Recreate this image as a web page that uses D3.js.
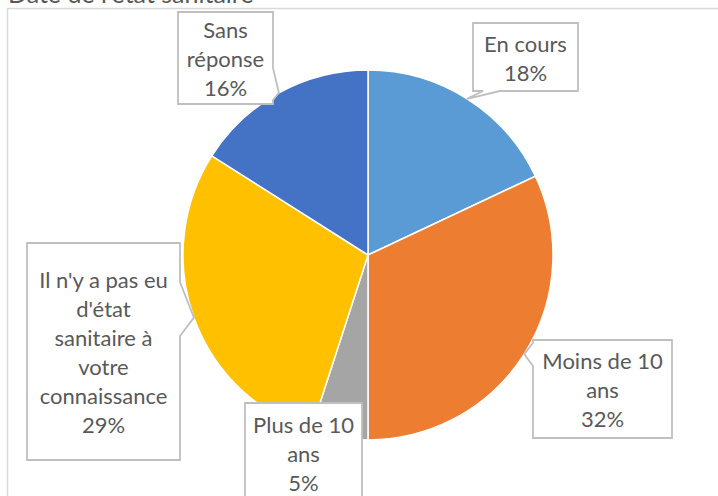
<!DOCTYPE html>
<html>
<head>
<meta charset="utf-8">
<script src="https://cdn.jsdelivr.net/npm/d3@7"></script>
<style>
  body { margin: 0; background: #fff; }
  svg { display: block; font-family: Lato, "Open Sans", sans-serif; }
</style>
</head>
<body>
<svg id="chart"></svg>
<script>
// categories and values (clockwise from 12 o'clock)
const categories = ["En cours", "Moins de 10 ans", "Plus de 10 ans",
  "Il n'y a pas eu d'état sanitaire à votre connaissance", "Sans réponse"];
const values = [18, 32, 5, 29, 16];
// label lines as they wrap in the callouts
const labelLines = [
  ["En cours", "18%"],
  ["Moins de 10", "ans", "32%"],
  ["Plus de 10", "ans", "5%"],
  ["Il n'y a pas eu", "d'état", "sanitaire à", "votre", "connaissance", "29%"],
  ["Sans", "réponse", "16%"]
];
const colors = ["#5B9BD5", "#ED7D31", "#A5A5A5", "#FFC000", "#4472C4"];
const title = "Date de l'état sanitaire";

const width = 718, height = 496;
const cx = 368, cy = 255, radius = 185;

// callout box layout (box, side with the pointer, span of the pointer base)
const callouts = [
  { x: 473, y: 23, w: 105, h: 68, side: "bottom", base: [483, 500] },
  { x: 533, y: 340, w: 139, h: 98, side: "left", base: [343, 366] },
  { x: 245, y: 403, w: 117, h: 100, side: null },
  { x: 27, y: 243, w: 153, h: 217, side: "right", base: [282, 336] },
  { x: 178, y: 12, w: 95, h: 92, side: "right", base: [68, 100] }
];

const svg = d3.select("#chart")
  .attr("width", width)
  .attr("height", height);

// chart area border (runs off the right and bottom)
svg.append("rect")
  .attr("x", 7.5).attr("y", 8.5)
  .attr("width", width + 20).attr("height", height + 20)
  .attr("fill", "none")
  .attr("stroke", "#D9D9D9")
  .attr("stroke-width", 1.5);

// title, mostly cut off by the top of the picture
svg.append("text")
  .attr("x", 8).attr("y", 3)
  .attr("font-size", 25)
  .attr("fill", "#595959")
  .text(title);

const pie = d3.pie().sort(null).value(d => d);
const arcs = pie(values);
const arc = d3.arc().innerRadius(0).outerRadius(radius);

const g = svg.append("g").attr("transform", `translate(${cx},${cy})`);

g.selectAll("path")
  .data(arcs)
  .enter()
  .append("path")
  .attr("d", arc)
  .attr("fill", (d, i) => colors[i])
  .attr("stroke", "#fff")
  .attr("stroke-width", 1.5);

// pointer tip = point on the outer arc at the middle of each slice
function tipOf(d) {
  const a = (d.startAngle + d.endAngle) / 2;
  return [cx + radius * Math.sin(a), cy - radius * Math.cos(a)];
}

function calloutPath(c, tip) {
  const x0 = c.x, y0 = c.y, x1 = c.x + c.w, y1 = c.y + c.h;
  const p = d3.path();
  p.moveTo(x0, y0);
  p.lineTo(x1, y0);
  if (c.side === "right") {
    p.lineTo(x1, c.base[0]); p.lineTo(tip[0], tip[1]); p.lineTo(x1, c.base[1]);
  }
  p.lineTo(x1, y1);
  if (c.side === "bottom") {
    p.lineTo(c.base[1], y1); p.lineTo(tip[0], tip[1]); p.lineTo(c.base[0], y1);
  }
  p.lineTo(x0, y1);
  if (c.side === "left") {
    p.lineTo(x0, c.base[1]); p.lineTo(tip[0], tip[1]); p.lineTo(x0, c.base[0]);
  }
  p.closePath();
  return p.toString();
}

const labels = svg.append("g");
const lineH = 29, fontSize = 22;

arcs.forEach(function(d, i) {
  const c = callouts[i];
  const tip = tipOf(d);
  labels.append("path")
    .attr("d", calloutPath(c, tip))
    .attr("fill", "#fff")
    .attr("stroke", "#BFBFBF")
    .attr("stroke-width", 1.8)
    .attr("stroke-linejoin", "miter");

  const lines = labelLines[i];
  const mx = c.x + c.w / 2, my = c.y + c.h / 2;
  labels.append("text")
    .attr("text-anchor", "middle")
    .attr("font-size", fontSize)
    .attr("fill", "#595959")
    .selectAll("tspan")
    .data(lines)
    .enter()
    .append("tspan")
    .attr("x", mx)
    .attr("y", (l, j) => my + (j - (lines.length - 1) / 2) * lineH + 9)
    .text(l => l);
});
</script>
</body>
</html>
